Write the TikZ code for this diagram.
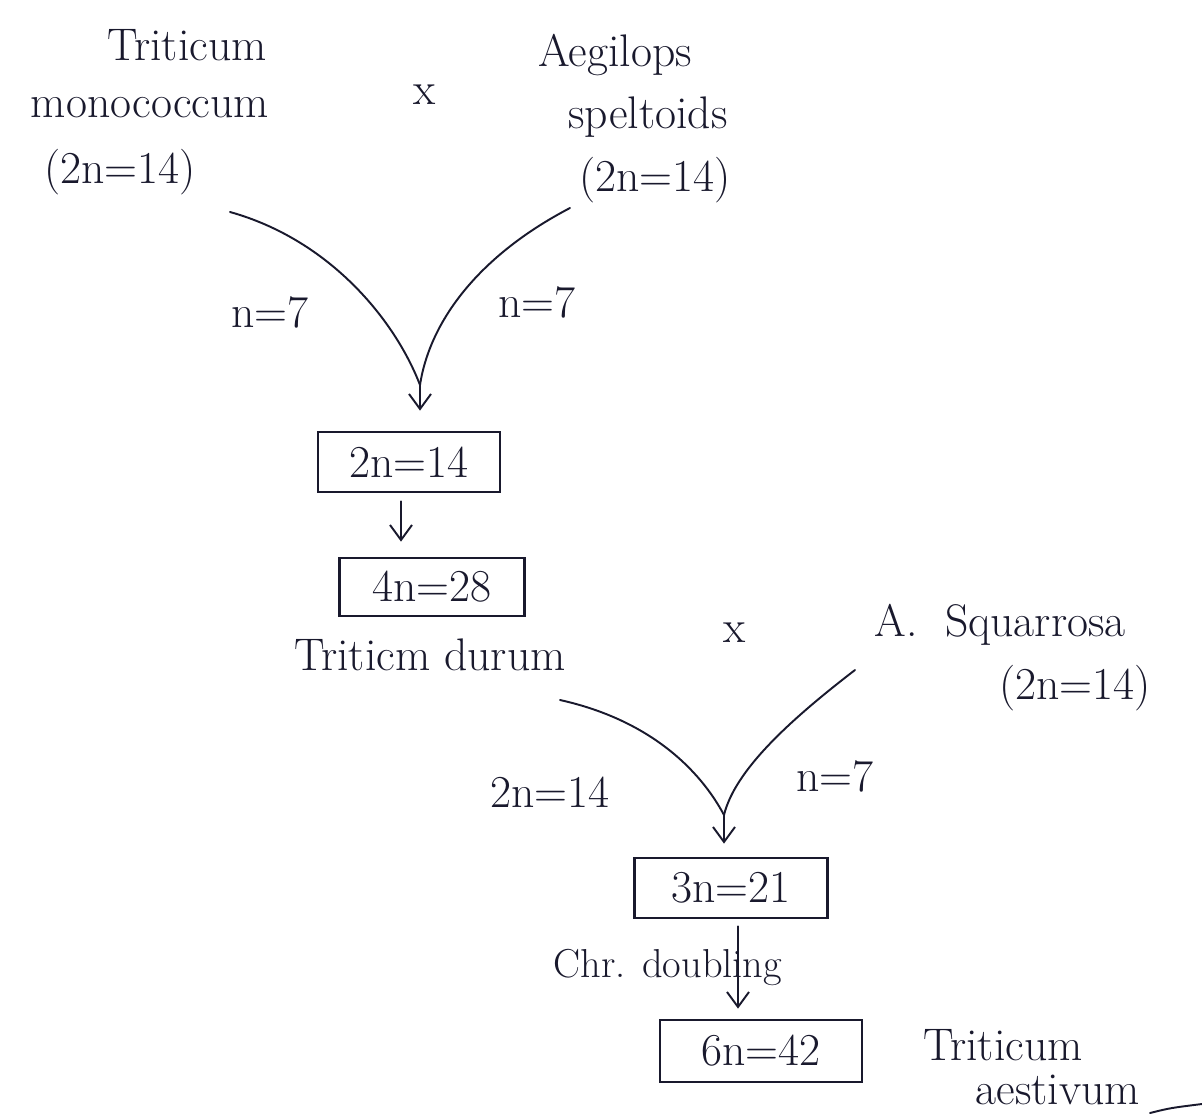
\documentclass[tikz,border=0pt]{standalone}
\usetikzlibrary{arrows.meta,calc}
\definecolor{ink}{RGB}{25,25,45}
\begin{document}
\begin{tikzpicture}[x=0.02cm,y=-0.02cm,
  lbl/.style={font=\fontsize{26}{30}\selectfont, text=ink, inner sep=0pt},
  smalllbl/.style={font=\fontsize{23}{27}\selectfont, text=ink, inner sep=0pt},
  box/.style={draw=ink, line width=1.6pt, inner sep=0pt, font=\fontsize{26}{30}\selectfont, text=ink},
  conn/.style={draw=ink, line width=1.1pt, line cap=round},
  arr/.style={conn, -{Straight Barb[length=0.3cm,width=0.44cm,line width=1.1pt]}}]
\fill[white] (0,0) rectangle (1202,1118);
\useasboundingbox (0,0) rectangle (1202,1118);
% first cross
\node[lbl] (tm1) at (187,45) {Triticum};
\node[lbl] (tm2) at (150,108) {monococcum};
\node[lbl] (tm3) at (120,172) {(2n=14)};
\node[lbl] (x1) at (425,95) {x};
\node[lbl] (as1) at (615,55) {Aegilops};
\node[lbl] (as2) at (648,117) {speltoids};
\node[lbl] (as3) at (655,180) {(2n=14)};
\coordinate (c1) at (230,212);
\coordinate (c2) at (570,208);
\coordinate (m1) at (420,385);
\draw[conn] (c1) .. controls (330,240) and (395,320) .. (m1);
\draw[conn] (c2) .. controls (480,255) and (430,320) .. (m1);
\node[lbl] (n1) at (270,312) {n=7};
\node[lbl] (n2) at (537,302) {n=7};
\node[box, minimum width=3.64cm, minimum height=1.2cm] (b1) at (409,462) {2n=14};
\draw[arr, shorten >=0.4cm] (m1) -- (m1 |- b1.north);
\coordinate (ax1) at (401,0);
\node[box, minimum width=3.7cm, minimum height=1.16cm] (b2) at (432,587) {4n=28};
\draw[arr, shorten <=0.16cm, shorten >=0.3cm] (b1.south -| ax1) -- (b2.north -| ax1);
\node[lbl] (td) at (430,655) {Triticm durum};
% second cross
\node[lbl] (x2) at (735,633) {x};
\node[lbl] (sq1) at (1000,625) {A.\ \ Squarrosa};
\node[lbl] (sq2) at (1075,688) {(2n=14)};
\coordinate (c3) at (560,700);
\coordinate (c4) at (855,670);
\coordinate (m2) at (724,815);
\draw[conn] (c3) .. controls (650,720) and (700,770) .. (m2);
\draw[conn] (c4) .. controls (790,720) and (735,770) .. (m2);
\node[lbl] (n3) at (550,792) {2n=14};
\node[lbl] (n4) at (835,776) {n=7};
\node[box, minimum width=3.86cm, minimum height=1.2cm] (b3) at (731,888) {3n=21};
\draw[arr, shorten >=0.26cm] (m2) -- (m2 |- b3.north);
\node[smalllbl] (cd) at (668,967) {Chr. doubling};
\node[box, minimum width=4.04cm, minimum height=1.24cm] (b4) at (761,1051) {6n=42};
\coordinate (ax2) at (738,0);
\draw[arr, shorten <=0.14cm, shorten >=0.2cm] (b3.south -| ax2) -- (b4.north -| ax2);
\node[lbl] (ta1) at (1003,1045) {Triticum};
\node[lbl] (ta2) at (1058,1090) {aestivum};
\draw[conn] (1150,1113) .. controls (1170,1108) .. (1202,1104);
\end{tikzpicture}
\end{document}
